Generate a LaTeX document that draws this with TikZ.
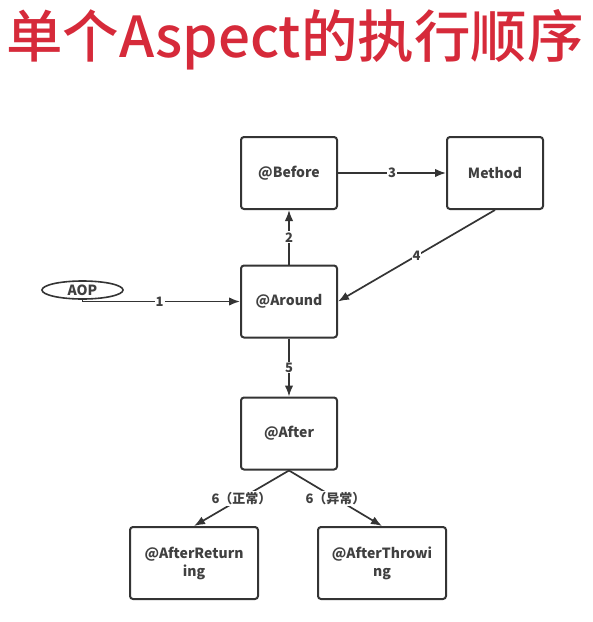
\documentclass[tikz,border=0pt]{standalone}
\usepackage{fontspec}
\newfontfamily\cjk{Noto Sans CJK SC}
\newfontfamily\cjkmed{Noto Sans CJK SC Medium}
\usepackage{xcolor}
\usetikzlibrary{arrows.meta}
\usetikzlibrary{shapes.geometric}
\definecolor{titlered}{RGB}{214,42,58}
\definecolor{linegray}{RGB}{52,52,52}
\definecolor{textgray}{RGB}{64,64,64}
\tikzset{>={Latex[length=11pt,width=8.5pt]}}
\tikzset{
  box/.style={draw=linegray, line width=2pt, rounded corners=3pt, fill=white,
    minimum width=96pt, minimum height=72pt, inner sep=0pt, align=center,
    text=textgray, font=\cjk\bfseries\fontsize{14}{18}\selectfont},
  widebox/.style={box, minimum width=128pt},
  flow/.style={->, draw=linegray, line width=1.7pt},
  lbl/.style={midway, fill=white, inner sep=1pt, text=textgray,
    font=\cjk\bfseries\fontsize{13}{15}\selectfont}
}

\begin{document}
\begin{tikzpicture}[x=1pt, y=-1pt]
	\useasboundingbox (0,0) rectangle (593,622);
	\fill[white] (0,0) rectangle (593,622);

	% Titolo
	\node[titlered, font=\cjkmed\fontsize{56.5}{62}\selectfont] (title) at (295,40) {单个Aspect的执行顺序};

	% Blocchi
	\node[box] (before) at (289,173) {@Before};
	\node[box] (method) at (495,173) {Method};
	\node[box] (around) at (289,301.5) {@Around};
	\node[box] (after) at (289,433.5) {@After};
	\node[widebox] (areturn) at (194,563) {@AfterReturn\\ing};
	\node[widebox] (athrow) at (382,563) {@AfterThrowi\\ng};

	\node[ellipse, draw=linegray, line width=1.6pt, minimum width=81pt, minimum height=18pt,
	  inner sep=0pt, text=textgray, font=\cjk\bfseries\fontsize{14}{16}\selectfont] (aop) at (82.5,290) {AOP};

	%% Frecce
	\draw[flow] (aop.south) |- (around.west) node[lbl, pos=0.745] {1};
	\draw[flow] (around.north) -- (before.south) node[lbl] {2};
	\draw[flow] (before.east) -- (method.west) node[lbl] {3};
	\draw[flow] (method.south) -- (around.east) node[lbl] {4};
	\draw[flow] (around.south) -- (after.north) node[lbl] {5};
	\draw[flow] (after.south) -- (areturn.north) node[lbl] {6（正常）};
	\draw[flow] (after.south) -- (athrow.north) node[lbl] {6（异常）};

\end{tikzpicture}
\end{document}
